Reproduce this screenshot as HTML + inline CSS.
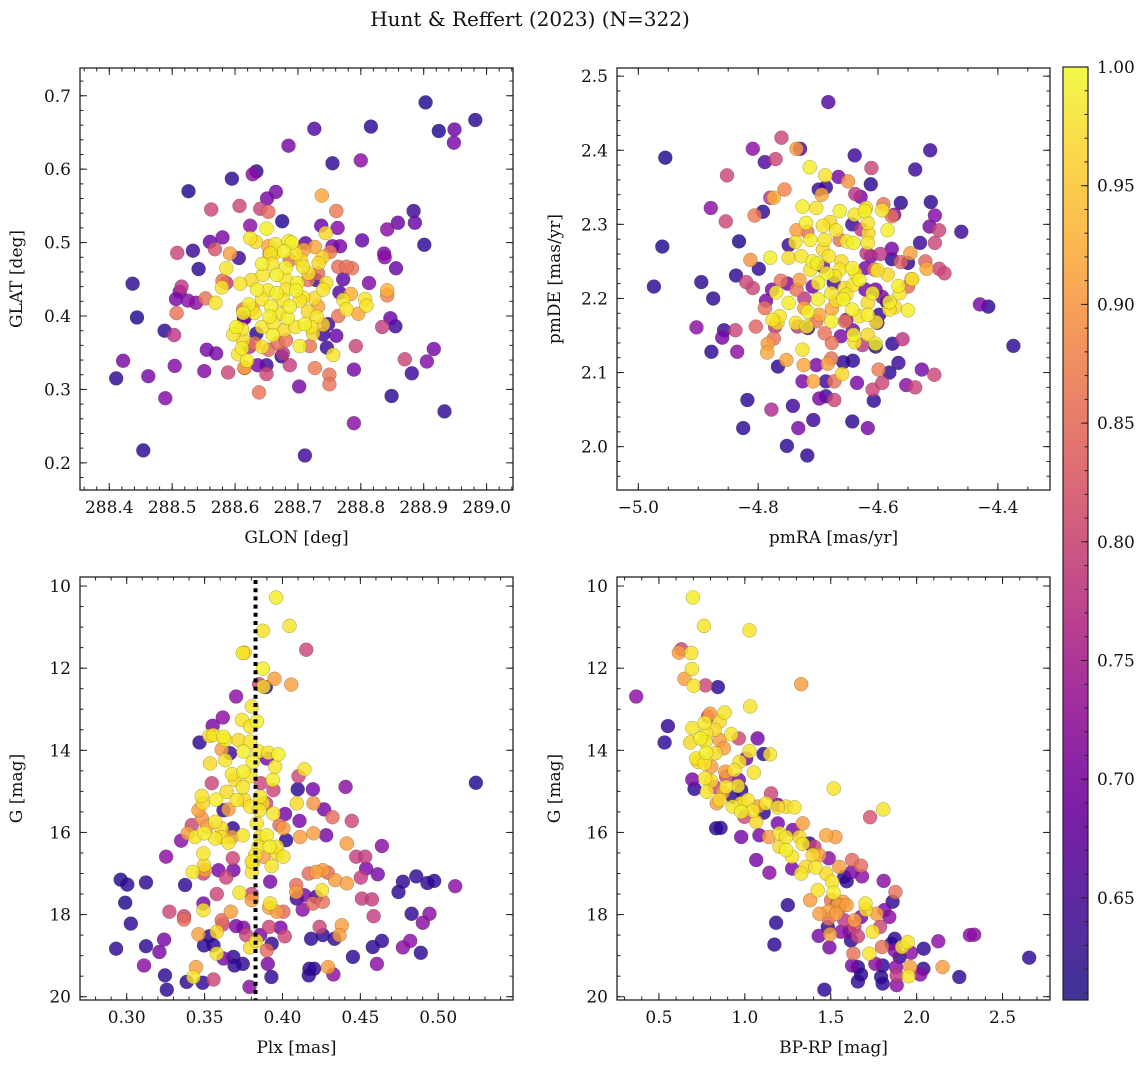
<!DOCTYPE html>
<html><head><meta charset="utf-8">
<style>
html,body{margin:0;padding:0;background:#fff;}
svg{display:block;font-family:"DejaVu Serif","Liberation Serif",serif;}
</style></head>
<body>
<svg id="fig" width="1148" height="1067" viewBox="0 0 1148 1067" xmlns="http://www.w3.org/2000/svg">
<rect width="1148" height="1067" fill="#fff"/>
<text x="530" y="26" font-size="20" text-anchor="middle" fill="#111">Hunt &amp; Reffert (2023) (N=322)</text>
<defs>
<linearGradient id="cbg" x1="0" y1="1" x2="0" y2="0">
<stop offset="0" stop-color="#3f3596"/><stop offset="0.1" stop-color="#5c2aa0"/><stop offset="0.2" stop-color="#7b1fa6"/><stop offset="0.3" stop-color="#9a2aa1"/><stop offset="0.4" stop-color="#b83f91"/><stop offset="0.5" stop-color="#cf5c80"/><stop offset="0.6" stop-color="#e2766f"/><stop offset="0.7" stop-color="#f2935f"/><stop offset="0.8" stop-color="#fbb451"/><stop offset="0.9" stop-color="#fbd64a"/><stop offset="1" stop-color="#f2f84a"/>
</linearGradient>
</defs>
<g id="layer"></g>
</svg>
<script>
// ---------- DATA ----------
const p1x=[288.903,288.982,288.924,288.949,288.948,288.816,288.726,288.685,288.755,288.800,288.595,288.634,288.628,288.526,288.665,288.651,288.562,288.607,288.640,288.653,288.738,288.761,288.675,288.624,288.737,288.763,288.744,288.884,288.886,288.859,288.842,288.901,288.802,288.712,288.580,288.560,288.508,288.533,288.568,288.592,288.606,288.837,288.838,288.856,288.542,288.437,288.813,288.772,288.764,288.786,288.777,288.842,288.842,288.807,288.809,288.796,288.764,288.766,288.784,288.772,288.777,288.515,288.512,288.506,288.525,288.538,288.553,288.569,288.579,288.580,288.586,288.507,288.444,288.488,288.503,288.847,288.855,288.834,288.761,288.792,288.555,288.570,288.422,288.411,288.462,288.504,288.551,288.589,288.615,288.636,288.650,288.650,288.674,288.687,288.727,288.750,288.750,288.789,288.870,288.916,288.905,288.881,288.638,288.702,288.489,288.849,288.933,288.789,288.454,288.711,288.751,288.727,288.755,288.767,288.729,288.748,288.746,288.614,288.740,
288.650,288.624,288.633,288.685,288.664,288.690,288.656,288.663,288.678,288.696,288.705,288.643,288.659,288.681,288.708,288.717,288.739,288.733,288.745,288.699,288.681,288.666,288.644,288.626,288.608,288.635,288.652,288.666,288.681,288.697,288.708,288.726,288.740,288.622,288.643,288.657,288.670,288.684,288.703,288.716,288.730,288.613,288.631,288.602,288.611,288.597,288.613,288.611,288.605,288.619,288.643,288.660,288.678,288.696,288.711,288.721,288.724,288.740,288.756,288.703,288.643,288.661,288.687,288.676,288.655,
288.628,288.613,288.631,288.653,288.719,288.732,288.668,288.653,288.655,288.687,288.709,288.716,288.732,288.615,288.681,288.676,288.623,288.634,288.615,288.586];
const p1y=[0.691,0.667,0.652,0.654,0.636,0.658,0.655,0.632,0.608,0.612,0.587,0.597,0.593,0.570,0.569,0.560,0.545,0.550,0.546,0.542,0.564,0.543,0.529,0.523,0.523,0.520,0.513,0.543,0.527,0.527,0.518,0.497,0.503,0.499,0.507,0.501,0.486,0.489,0.491,0.485,0.479,0.485,0.480,0.465,0.464,0.444,0.445,0.450,0.467,0.465,0.467,0.435,0.428,0.423,0.414,0.403,0.400,0.432,0.430,0.422,0.409,0.440,0.433,0.423,0.421,0.418,0.424,0.418,0.439,0.448,0.465,0.404,0.398,0.380,0.374,0.397,0.386,0.385,0.373,0.359,0.354,0.349,0.339,0.315,0.318,0.332,0.325,0.323,0.329,0.333,0.333,0.321,0.345,0.333,0.329,0.320,0.307,0.327,0.341,0.355,0.338,0.322,0.296,0.304,0.288,0.291,0.270,0.254,0.217,0.210,0.487,0.494,0.495,0.495,0.449,0.389,0.357,0.397,0.375,
0.519,0.506,0.501,0.502,0.498,0.500,0.485,0.486,0.488,0.485,0.476,0.471,0.471,0.466,0.467,0.458,0.480,0.472,0.445,0.445,0.450,0.456,0.456,0.449,0.444,0.436,0.435,0.431,0.436,0.435,0.425,0.424,0.436,0.416,0.423,0.413,0.403,0.397,0.421,0.406,0.399,0.404,0.404,0.385,0.382,0.375,0.367,0.356,0.348,0.339,0.385,0.374,0.381,0.385,0.389,0.385,0.376,0.388,0.347,0.359,0.358,0.390,0.413,0.422,0.399,
0.410,0.409,0.363,0.354,0.359,0.413,0.363,0.495,0.485,0.476,0.490,0.449,0.458,0.330,0.367,0.349,0.358,0.376,0.397,0.445];
const p1c=[0.62,0.63,0.62,0.69,0.70,0.63,0.66,0.70,0.63,0.72,0.63,0.63,0.72,0.62,0.70,0.70,0.80,0.80,0.80,0.85,0.92,0.87,0.62,0.72,0.68,0.71,0.97,0.64,0.68,0.68,0.72,0.63,0.68,0.67,0.70,0.68,0.80,0.64,0.82,0.91,0.64,0.70,0.72,0.68,0.63,0.63,0.71,0.67,0.85,0.86,0.86,0.93,0.88,0.98,0.98,0.92,0.86,0.66,0.93,0.98,0.98,0.78,0.70,0.70,0.72,0.72,0.86,0.98,0.98,0.86,0.98,0.86,0.62,0.63,0.78,0.68,0.64,0.79,0.68,0.80,0.70,0.70,0.70,0.63,0.70,0.71,0.71,0.80,0.86,0.70,0.64,0.80,0.63,0.79,0.87,0.86,0.86,0.70,0.80,0.70,0.71,0.64,0.86,0.70,0.71,0.63,0.63,0.72,0.63,0.64,0.87,0.92,0.70,0.70,0.64,0.64,0.64,0.65,0.64,
0.99,0.98,0.97,0.99,0.98,0.99,0.98,0.97,0.99,0.98,0.97,0.99,0.98,0.99,0.98,0.97,0.96,0.97,0.98,0.99,0.98,0.99,0.98,0.97,0.98,0.99,0.98,0.99,0.98,0.99,0.98,0.97,0.98,0.99,0.98,0.99,0.98,0.99,0.98,0.97,0.98,0.99,0.98,0.99,0.98,0.98,0.97,0.99,0.98,0.99,0.98,0.99,0.97,0.98,0.99,0.98,0.97,0.96,0.98,0.99,0.98,0.98,0.99,0.98,0.99,
0.92,0.86,0.86,0.85,0.86,0.92,0.85,0.92,0.86,0.86,0.92,0.86,0.85,0.91,0.86,0.78,0.77,0.63,0.70,0.78];

const p2x=[-4.683,-4.955,-4.960,-4.974,-4.809,-4.789,-4.771,-4.761,-4.736,-4.730,-4.852,-4.879,-4.854,-4.832,-4.792,-4.806,-4.780,-4.774,-4.756,-4.813,-4.799,-4.837,-4.895,-4.875,-4.809,-4.820,-4.804,-4.903,-4.857,-4.860,-4.838,-4.878,-4.835,-4.818,-4.825,-4.778,-4.752,-4.718,-4.733,-4.742,-4.708,-4.698,-4.687,-4.673,-4.643,-4.617,-4.607,-4.609,-4.593,-4.635,-4.581,-4.599,-4.566,-4.553,-4.538,-4.527,-4.506,-4.576,-4.559,-4.374,-4.430,-4.416,-4.461,-4.498,-4.514,-4.505,-4.512,-4.530,-4.505,-4.538,-4.513,-4.639,-4.611,-4.612,-4.666,-4.650,-4.687,-4.694,-4.638,-4.629,-4.562,-4.573,-4.577,-4.591,-4.577,-4.577,-4.562,-4.550,-4.546,-4.521,-4.519,-4.498,-4.489,-4.550,-4.544,-4.585,-4.593,-4.598,-4.601,-4.604,-4.626,-4.642,-4.642,-4.658,-4.662,-4.655,-4.703,-4.684,-4.678,-4.677,-4.689,-4.767,-4.785,-4.784,-4.774,-4.753,-4.724,-4.708,-4.726,-4.687,-4.673,-4.717,-4.734,-4.772,-4.787,-4.789,-4.777,-4.762,-4.736,-4.751,-4.749,-4.736,-4.718,-4.699,-4.628,-4.643,-4.619,-4.612,-4.596,-4.621,-4.606,-4.723,-4.723,-4.698,-4.703,-4.677,-4.731,-4.709,-4.674,-4.653,-4.621,-4.604,-4.664,-4.692,
-4.714,-4.688,-4.726,-4.703,-4.720,-4.692,-4.680,-4.664,-4.670,-4.652,-4.639,-4.622,-4.620,-4.617,-4.584,-4.593,-4.616,-4.617,-4.641,-4.689,-4.713,-4.738,-4.749,-4.780,-4.728,-4.709,-4.692,-4.682,-4.701,-4.713,-4.686,-4.664,-4.661,-4.643,-4.638,-4.631,-4.642,-4.656,-4.700,-4.672,-4.700,-4.678,-4.670,-4.658,-4.653,-4.643,-4.631,-4.617,-4.617,-4.603,-4.609,-4.581,-4.572,-4.581,-4.564,-4.566,-4.543,-4.550,-4.584,-4.601,-4.770,-4.764,-4.768,-4.749,-4.737,-4.717,-4.719,-4.678,-4.726,-4.660,-4.641,-4.639,-4.617,-4.604,-4.776];
const p2y=[2.465,2.390,2.270,2.216,2.402,2.384,2.388,2.417,2.402,2.402,2.366,2.322,2.304,2.277,2.317,2.312,2.336,2.336,2.347,2.252,2.240,2.231,2.222,2.200,2.214,2.222,2.162,2.161,2.157,2.147,2.157,2.128,2.128,2.063,2.025,2.050,2.001,1.988,2.025,2.055,2.036,2.065,2.068,2.063,2.034,2.025,2.062,2.077,2.086,2.086,2.100,2.104,2.113,2.083,2.080,2.104,2.097,2.139,2.145,2.136,2.192,2.189,2.290,2.292,2.297,2.312,2.330,2.275,2.275,2.374,2.400,2.393,2.376,2.354,2.364,2.358,2.350,2.340,2.341,2.337,2.329,2.313,2.311,2.327,2.267,2.253,2.249,2.248,2.261,2.250,2.240,2.240,2.234,2.216,2.226,2.195,2.202,2.178,2.167,2.135,2.137,2.157,2.116,2.114,2.149,2.169,2.110,2.112,2.119,2.140,2.153,2.108,2.127,2.139,2.146,2.117,2.110,2.088,2.088,2.088,2.088,2.160,2.162,2.162,2.197,2.187,2.212,2.224,2.212,2.220,2.272,2.292,2.290,2.347,2.293,2.300,2.261,2.257,2.260,2.241,2.239,2.200,2.187,2.178,2.169,2.186,2.225,2.216,2.221,2.171,2.212,2.212,2.279,2.243,
2.377,2.366,2.324,2.322,2.302,2.298,2.303,2.318,2.292,2.277,2.313,2.318,2.322,2.302,2.292,2.319,2.288,2.275,2.275,2.279,2.279,2.276,2.255,2.255,2.257,2.250,2.266,2.257,2.247,2.239,2.234,2.239,2.250,2.241,2.234,2.225,2.218,2.214,2.221,2.230,2.199,2.207,2.197,2.199,2.205,2.185,2.176,2.178,2.194,2.168,2.207,2.185,2.188,2.195,2.207,2.217,2.226,2.184,2.232,2.238,2.208,2.176,2.167,2.194,2.167,2.182,2.162,2.169,2.131,2.098,2.151,2.141,2.151,2.139,2.171];
const p2c=[0.66,0.62,0.62,0.63,0.72,0.66,0.80,0.80,0.91,0.66,0.80,0.72,0.80,0.62,0.63,0.87,0.78,0.93,0.88,0.90,0.63,0.63,0.63,0.63,0.80,0.80,0.84,0.72,0.64,0.70,0.80,0.63,0.72,0.63,0.63,0.76,0.63,0.63,0.70,0.64,0.64,0.70,0.64,0.80,0.63,0.70,0.63,0.80,0.80,0.70,0.63,0.87,0.64,0.72,0.80,0.70,0.80,0.63,0.78,0.63,0.70,0.63,0.64,0.80,0.70,0.71,0.63,0.64,0.80,0.64,0.64,0.64,0.80,0.63,0.70,0.90,0.64,0.92,0.78,0.70,0.63,0.70,0.86,0.86,0.70,0.63,0.84,0.63,0.91,0.84,0.92,0.80,0.80,0.85,0.92,0.64,0.70,0.64,0.70,0.63,0.78,0.70,0.63,0.63,0.70,0.86,0.70,0.91,0.86,0.86,0.86,0.63,0.92,0.91,0.86,0.92,0.92,0.92,0.70,0.64,0.86,0.64,0.78,0.78,0.70,0.86,0.70,0.86,0.86,0.70,0.64,0.91,0.86,0.64,0.78,0.64,0.78,0.70,0.78,0.70,0.86,0.78,0.92,0.92,0.86,0.92,0.91,0.70,0.64,0.70,0.70,0.70,0.86,0.70,
0.99,0.98,0.99,0.98,0.99,0.98,0.97,0.99,0.98,0.99,0.98,0.99,0.97,0.98,0.99,0.98,0.97,0.98,0.99,0.98,0.99,0.98,0.97,0.99,0.98,0.99,0.97,0.98,0.99,0.98,0.99,0.98,0.97,0.99,0.98,0.99,0.98,0.97,0.99,0.98,0.99,0.98,0.97,0.99,0.98,0.99,0.98,0.99,0.97,0.98,0.99,0.98,0.97,0.99,0.98,0.99,0.98,0.99,0.97,0.98,0.99,0.98,0.97,0.99,0.98,0.99,0.98,0.99,0.98,0.97,0.99,0.98,0.97,0.99,0.98];

const p3x=[0.3959,0.4045,0.3874,0.4152,0.3745,0.3756,0.3874,0.3949,0.4056,0.3893,0.3878,0.3850,0.3702,0.3803,0.3617,0.3552,0.3467,0.3739,0.3792,0.3835,0.3557,0.3531,0.3621,0.3632,0.3717,0.3792,0.3749,0.3846,0.3610,0.3664,0.3910,0.3974,0.3899,0.3953,0.3809,0.3632,0.3535,0.3675,0.3749,0.3792,0.3696,0.4103,0.4141,0.3938,0.3942,0.3861,0.3745,0.3642,0.3546,0.4098,0.4195,0.4405,0.5242,0.3482,0.3488,0.3574,0.3707,0.3754,0.3792,0.3895,0.3942,0.4092,0.4199,0.4267,0.3621,0.3653,0.3461,0.3482,0.3568,0.3610,0.3681,0.3514,0.3418,0.3392,0.3349,0.3439,0.3499,0.3568,0.3610,0.3653,0.3675,0.3745,0.3856,0.3899,0.3964,0.3964,0.4006,0.3917,0.3846,0.3878,0.3931,0.3809,0.3803,0.4006,0.3981,0.4017,0.4109,0.4113,0.4023,0.4199,0.4281,0.4321,0.4445,0.3492,0.3496,0.3424,0.3503,0.3253,0.3589,0.3638,0.3685,0.3681,0.3492,0.2961,0.3004,0.3124,0.3375,0.3578,0.3724,0.3803,0.3803,0.3921,0.3921,0.3914,0.3964,0.4006,0.4092,0.4141,0.4130,0.4088,0.4088,0.4195,0.4259,0.4216,0.4253,0.4259,0.4169,0.4216,0.4291,0.4338,0.4413,0.4413,0.4473,0.4531,0.4537,0.4503,0.4612,0.4638,0.4510,0.4574,0.4585,0.4745,0.4773,0.4859,0.4931,0.4974,0.5109,0.4829,0.4944,0.4901,0.4773,0.4820,0.4888,0.4638,0.4580,0.4606,0.4452,0.4381,0.4366,0.4334,0.4259,0.4184,0.4238,0.4293,0.4327,0.4173,0.4169,0.4203,0.3929,0.3906,0.3899,0.3931,0.4015,0.3987,0.3914,0.3856,0.3831,0.3792,0.3749,0.3702,0.3767,0.3685,0.3692,0.3745,0.3621,0.3557,0.3578,0.3578,0.3531,0.3496,0.3461,0.3610,0.3668,0.3617,0.3492,0.3492,0.3368,0.3368,0.3274,0.2990,0.3026,0.2932,0.3124,0.3210,0.3240,0.3111,0.3246,0.3257,0.3385,0.3428,0.3445,0.3488,0.3557,0.3788,0.3824,0.3803,0.3835,0.3852,0.3874,0.3856];
const p3y=[10.28,10.97,11.09,11.55,11.63,11.62,12.01,12.26,12.40,12.46,12.45,12.39,12.69,12.93,13.20,13.40,13.81,13.26,13.42,13.30,13.63,13.65,13.67,13.75,13.75,13.79,14.03,14.03,13.98,14.07,14.06,14.10,14.20,14.40,14.28,14.24,14.32,14.58,14.52,14.63,14.72,14.63,14.46,14.72,14.97,14.80,14.90,15.01,14.80,14.95,14.95,14.89,14.79,15.11,15.29,15.20,15.21,15.21,15.37,15.29,15.54,15.29,15.29,15.44,15.46,15.44,15.46,15.66,15.74,15.90,15.90,15.86,15.82,16.02,16.20,16.11,16.02,16.15,16.11,16.25,16.11,16.07,16.11,16.07,16.35,16.51,16.59,16.35,16.35,16.59,16.82,16.76,16.96,15.90,15.82,15.55,15.72,16.11,16.19,16.02,16.07,15.63,15.72,16.51,16.80,16.96,16.92,16.59,16.92,17.10,16.92,16.63,17.00,17.15,17.27,17.22,17.28,17.50,17.47,17.65,17.50,17.20,17.73,17.83,17.93,17.93,17.61,17.53,17.88,17.28,17.45,17.73,17.69,17.57,17.41,16.92,17.00,16.96,16.98,17.16,17.24,16.27,16.59,16.59,16.88,17.10,17.02,16.33,17.61,17.63,18.04,17.45,17.20,17.07,17.23,17.18,17.31,17.98,17.98,18.20,18.80,18.64,18.93,18.64,18.79,19.20,19.03,18.26,18.50,18.59,18.50,18.59,18.30,19.28,19.46,19.32,19.48,19.32,19.52,19.20,18.87,18.71,18.53,18.32,18.30,18.50,18.64,18.80,18.32,18.28,18.50,19.03,19.24,19.20,19.07,18.75,18.95,18.42,18.53,18.75,18.48,18.14,17.93,18.24,17.89,17.73,18.04,18.12,17.93,17.71,18.22,18.83,18.77,18.91,18.61,19.24,19.48,19.83,19.64,19.52,19.28,19.66,19.58,19.76,16.55,16.71,15.78,15.46,15.29,15.13];
const p3c=[0.99,0.98,0.98,0.80,0.98,0.97,0.99,0.91,0.91,0.63,0.97,0.80,0.72,0.98,0.72,0.70,0.63,0.98,0.98,0.99,0.98,0.97,0.99,0.98,0.97,0.98,0.99,0.98,0.91,0.64,0.98,0.99,0.70,0.98,0.99,0.98,0.97,0.98,0.99,0.98,0.97,0.80,0.98,0.99,0.80,0.80,0.98,0.97,0.80,0.63,0.70,0.72,0.62,0.98,0.97,0.99,0.98,0.97,0.98,0.80,0.98,0.97,0.90,0.70,0.63,0.91,0.91,0.90,0.98,0.97,0.63,0.91,0.80,0.91,0.72,0.98,0.99,0.98,0.97,0.98,0.91,0.98,0.97,0.99,0.98,0.97,0.98,0.99,0.98,0.91,0.98,0.97,0.98,0.91,0.85,0.70,0.70,0.91,0.63,0.91,0.70,0.85,0.80,0.98,0.97,0.98,0.91,0.72,0.70,0.80,0.70,0.80,0.80,0.62,0.63,0.63,0.63,0.80,0.98,0.91,0.80,0.70,0.98,0.91,0.91,0.85,0.64,0.70,0.72,0.85,0.91,0.85,0.86,0.64,0.98,0.91,0.85,0.91,0.85,0.91,0.91,0.91,0.79,0.79,0.70,0.79,0.70,0.72,0.79,0.79,0.79,0.63,0.63,0.63,0.63,0.63,0.72,0.63,0.72,0.72,0.72,0.72,0.63,0.63,0.63,0.72,0.63,0.91,0.91,0.63,0.63,0.63,0.80,0.91,0.72,0.63,0.63,0.63,0.63,0.70,0.85,0.63,0.80,0.70,0.80,0.70,0.98,0.97,0.70,0.70,0.80,0.63,0.63,0.63,0.70,0.63,0.98,0.97,0.63,0.63,0.91,0.85,0.91,0.80,0.98,0.70,0.80,0.85,0.80,0.62,0.63,0.63,0.63,0.70,0.70,0.72,0.63,0.63,0.63,0.98,0.91,0.63,0.80,0.72,0.98,0.98,0.98,0.98,0.97,0.98];

const p4x=[0.698,0.762,1.027,0.630,0.616,0.688,0.692,0.649,0.702,0.771,0.843,1.328,0.368,1.031,0.552,0.533,0.798,0.785,0.882,0.853,0.766,0.694,0.775,0.824,0.921,0.965,1.074,0.853,0.771,0.682,0.742,0.878,1.027,1.109,1.147,1.008,0.969,0.829,0.775,0.717,0.727,0.766,0.804,1.052,0.886,0.940,0.965,0.959,0.891,0.694,0.707,0.769,0.804,0.779,0.824,0.891,0.853,0.872,0.930,0.979,0.837,0.930,0.979,1.017,0.979,0.998,1.047,1.066,1.076,1.110,1.124,1.153,1.192,1.192,1.240,1.289,1.085,1.140,1.192,1.202,1.202,1.240,1.240,1.275,1.318,1.337,1.279,1.337,1.376,1.405,1.395,1.434,1.473,1.527,1.517,1.806,1.729,0.833,0.859,0.979,1.066,1.143,1.250,1.182,1.172,1.275,1.328,1.355,1.411,1.473,1.508,1.516,1.424,1.488,1.550,1.579,1.593,1.624,1.676,1.682,1.624,1.502,1.570,1.541,1.593,1.488,1.550,1.531,1.488,1.702,1.705,1.676,1.638,1.609,1.638,1.658,1.744,1.767,1.787,1.808,1.812,1.841,1.876,1.860,1.483,1.496,1.430,1.492,1.618,1.632,1.624,1.658,1.676,1.658,1.725,1.760,1.802,1.798,1.853,1.872,1.872,1.901,1.915,1.948,1.967,2.041,1.953,1.962,1.880,1.884,1.884,1.793,1.802,2.021,2.039,2.126,2.151,2.248,2.335,2.310,2.655,1.463,1.560,1.579,1.434,1.535,1.380];
const p4y=[10.28,10.97,11.08,11.54,11.62,11.63,12.02,12.26,12.43,12.42,12.46,12.39,12.69,12.93,13.41,13.81,13.11,13.18,13.08,13.30,13.33,13.46,13.59,13.50,13.61,13.71,13.71,13.75,13.79,13.81,13.71,13.95,14.02,14.09,14.10,14.20,14.28,14.07,14.06,14.20,14.28,14.32,14.40,14.54,14.52,14.48,14.72,14.87,14.64,14.71,14.94,14.68,14.75,15.01,14.89,14.89,15.21,15.03,15.13,14.97,15.29,15.37,15.29,15.21,15.50,15.62,15.47,15.74,15.37,15.52,15.29,15.05,15.33,15.39,15.37,15.39,16.07,16.11,15.78,16.02,16.35,16.11,16.43,16.59,16.11,15.78,15.94,16.28,16.27,16.35,16.55,16.55,16.07,16.11,14.93,15.44,15.63,15.90,15.89,16.11,16.67,16.98,17.77,18.20,18.73,16.88,17.00,16.84,16.85,17.00,17.20,17.47,17.41,16.63,16.84,17.08,17.19,16.67,16.81,17.07,16.96,17.65,17.69,17.77,17.77,17.91,17.85,17.98,18.10,17.73,17.88,18.06,18.14,18.42,18.30,18.53,18.42,17.98,18.30,17.18,17.89,18.06,17.45,17.69,18.30,18.48,18.52,18.80,18.63,18.95,19.24,19.28,19.46,19.63,18.95,19.20,19.24,18.79,18.71,18.59,18.87,19.03,18.79,18.67,18.93,18.83,19.50,19.28,19.28,19.48,19.72,19.52,19.68,19.46,19.32,18.65,19.28,19.52,18.49,18.50,19.05,19.83,18.42,18.14,17.98,17.73,17.65];
const p4c=[0.99,0.98,0.98,0.80,0.91,0.98,0.98,0.91,0.98,0.80,0.63,0.91,0.72,0.98,0.63,0.63,0.91,0.80,0.98,0.97,0.99,0.98,0.98,0.97,0.98,0.80,0.70,0.91,0.98,0.97,0.99,0.91,0.98,0.63,0.98,0.70,0.98,0.97,0.99,0.98,0.97,0.98,0.91,0.98,0.91,0.98,0.70,0.98,0.80,0.70,0.63,0.98,0.97,0.98,0.80,0.98,0.97,0.91,0.63,0.63,0.91,0.98,0.97,0.98,0.99,0.80,0.98,0.97,0.91,0.63,0.98,0.80,0.70,0.98,0.97,0.98,0.70,0.91,0.70,0.98,0.97,0.98,0.99,0.98,0.97,0.91,0.70,0.98,0.63,0.80,0.97,0.91,0.92,0.91,0.98,0.98,0.82,0.63,0.63,0.70,0.70,0.72,0.63,0.63,0.63,0.70,0.98,0.97,0.98,0.97,0.98,0.99,0.98,0.72,0.91,0.63,0.63,0.85,0.85,0.72,0.70,0.86,0.91,0.91,0.91,0.91,0.86,0.91,0.86,0.98,0.97,0.70,0.91,0.70,0.80,0.80,0.98,0.91,0.80,0.72,0.70,0.72,0.86,0.63,0.63,0.91,0.70,0.70,0.63,0.86,0.70,0.63,0.63,0.63,0.98,0.72,0.63,0.86,0.63,0.63,0.72,0.63,0.98,0.98,0.72,0.63,0.98,0.91,0.72,0.78,0.72,0.63,0.63,0.72,0.63,0.72,0.91,0.63,0.72,0.72,0.63,0.63,0.72,0.78,0.91,0.63,0.91];

const cbTicks=[0.65,0.70,0.75,0.80,0.85,0.90,0.95,1.00];

// ---------- RENDER ----------
const NS="http://www.w3.org/2000/svg";
const layer=document.getElementById('layer');
function mk(tag,attrs,parent){const e=document.createElementNS(NS,tag);for(const k in attrs)e.setAttribute(k,attrs[k]);(parent||layer).appendChild(e);return e;}
const PL=[[0,'#0d0887'],[0.1,'#41049d'],[0.2,'#6a00a8'],[0.3,'#8f0da4'],[0.4,'#b12a90'],[0.5,'#cc4778'],[0.6,'#e16462'],[0.7,'#f2844b'],[0.8,'#fca636'],[0.9,'#fcce25'],[1,'#f0f921']];
function hx(h){return [parseInt(h.substr(1,2),16),parseInt(h.substr(3,2),16),parseInt(h.substr(5,2),16)];}
const VMIN=0.607,VMAX=1.0;
function cmap(v){let t=(v-VMIN)/(VMAX-VMIN);t=Math.max(0,Math.min(1,t));
 for(let i=0;i<PL.length-1;i++){if(t<=PL[i+1][0]){const f=(t-PL[i][0])/(PL[i+1][0]-PL[i][0]);const a=hx(PL[i][1]),b=hx(PL[i+1][1]);return 'rgb('+a.map((c,j)=>Math.round(c+(b[j]-c)*f)).join(',')+')';}}
 return PL[PL.length-1][1];}

function fmt(v,d){return v.toFixed(d).replace('-','\u2212');}

function panel(cfg){
 const {name,L,R,T,B,xd,yd,yinv,xt,xminor,yt,yminor,xdec,ydec,xlabel,ylabel,xs,ys,cs}=cfg;
 const g=mk('g',{});
 
 
 const X=v=>L+(v-xd[0])/(xd[1]-xd[0])*(R-L);
 const Y=v=>yinv? T+(v-yd[0])/(yd[1]-yd[0])*(B-T) : B-(v-yd[0])/(yd[1]-yd[0])*(B-T);
 const idx=xs.map((_,i)=>i).sort((a,b)=>cs[a]-cs[b]);
 const pg=mk('g',{},g);
 
 
 idx.forEach(i=>{
  const c=mk('circle',{cx:X(xs[i]).toFixed(1),cy:Y(ys[i]).toFixed(1),r:7,fill:cmap(cs[i]),'fill-opacity':0.82,stroke:'rgba(60,60,40,0.45)','stroke-width':0.5},pg);
  
  
 });
 if(cfg.vline!==undefined){
  const ln=mk('line',{x1:X(cfg.vline),x2:X(cfg.vline),y1:T+3,y2:B,stroke:'#000','stroke-width':4,'stroke-dasharray':'4 4.2'},g);
  
  
 }
 const fr=mk('rect',{x:L,y:T,width:R-L,height:B-T,fill:'none',stroke:'#222','stroke-width':1.3},g);
 
 
 const tk=mk('g',{stroke:'#222','stroke-width':1},g);
 const eps=1e-9;
 for(let v=Math.ceil((xd[0])/xminor)*xminor;v<=xd[1]+eps;v+=xminor){const x=X(v);mk('line',{x1:x,x2:x,y1:B,y2:B-3.5},tk);mk('line',{x1:x,x2:x,y1:T,y2:T+3.5},tk);}
 const ylo=Math.min(yd[0],yd[1]),yhi=Math.max(yd[0],yd[1]);
 for(let v=Math.ceil(ylo/yminor)*yminor;v<=yhi+eps;v+=yminor){const y=Y(v);mk('line',{x1:L,x2:L+3.5,y1:y,y2:y},tk);mk('line',{x1:R,x2:R-3.5,y1:y,y2:y},tk);}
 xt.forEach(v=>{const x=X(v);mk('line',{x1:x,x2:x,y1:B,y2:B-7},tk);mk('line',{x1:x,x2:x,y1:T,y2:T+7},tk);
  const t=mk('text',{x:x,y:B+23,'font-size':17,'text-anchor':'middle',fill:'#111'},g);t.textContent=fmt(v,xdec);
  });
 yt.forEach(v=>{const y=Y(v);mk('line',{x1:L,x2:L+7,y1:y,y2:y},tk);mk('line',{x1:R,x2:R-7,y1:y,y2:y},tk);
  const t=mk('text',{x:L-9,y:y+6,'font-size':17,'text-anchor':'end',fill:'#111'},g);t.textContent=fmt(v,ydec);
  });
 const xl=mk('text',{x:(L+R)/2,y:B+53,'font-size':17,'text-anchor':'middle',fill:'#111'},g);xl.textContent=xlabel;
 
 const yx=cfg.ylx, yy=(T+B)/2;
 const yl=mk('text',{x:yx,y:yy,'font-size':17,'text-anchor':'middle',fill:'#111',transform:`rotate(-90 ${yx} ${yy})`},g);yl.textContent=ylabel;
 
}
function rng(a,b,s){const r=[];for(let v=a;v<=b+1e-9;v+=s)r.push(Math.round(v*1000)/1000);return r;}

panel({name:'glon-glat-panel',L:80,R:513,T:68,B:490,xd:[288.3534,289.042],yd:[0.163,0.7378],xt:rng(288.4,289.0,0.1),xminor:0.02,yt:rng(0.2,0.7,0.1),yminor:0.02,xdec:1,ydec:1,xlabel:'GLON [deg]',ylabel:'GLAT [deg]',ylx:22,xs:p1x,ys:p1y,cs:p1c});
panel({name:'proper-motion-panel',L:617,R:1050,T:68,B:490,xd:[-5.0356,-4.313],yd:[1.9415,2.511],xt:rng(-5.0,-4.4,0.2),xminor:0.05,yt:rng(2.0,2.5,0.1),yminor:0.02,xdec:1,ydec:1,xlabel:'pmRA [mas/yr]',ylabel:'pmDE [mas/yr]',ylx:560,xs:p2x,ys:p2y,cs:p2c});
panel({name:'parallax-magnitude-panel',L:80,R:513,T:577,B:1000,xd:[0.270,0.548],yd:[9.78,20.08],yinv:true,xt:rng(0.30,0.50,0.05),xminor:0.01,yt:rng(10,20,2),yminor:0.5,xdec:2,ydec:0,xlabel:'Plx [mas]',ylabel:'G [mag]',ylx:22,xs:p3x,ys:p3y,cs:p3c,vline:0.3827});
panel({name:'color-magnitude-panel',L:617,R:1050,T:577,B:1000,xd:[0.256,2.776],yd:[9.78,20.08],yinv:true,xt:rng(0.5,2.5,0.5),xminor:0.1,yt:rng(10,20,2),yminor:0.5,xdec:1,ydec:0,xlabel:'BP-RP [mag]',ylabel:'G [mag]',ylx:560,xs:p4x,ys:p4y,cs:p4c});

(function(){
 const L=1063,R=1088,T=67,B=1000;
 const g=mk('g',{});
 
 
 const Y=v=>B-(v-VMIN)/(VMAX-VMIN)*(B-T);
 mk('rect',{x:L,y:T,width:R-L,height:B-T,fill:'url(#cbg)'},g);
 mk('rect',{x:L,y:T,width:R-L,height:B-T,fill:'none',stroke:'#222','stroke-width':1.2},g);
 for(let v=0.61;v<=1.0001;v+=0.01){const y=Y(v);mk('line',{x1:R,x2:R-3.5,y1:y,y2:y,stroke:'#222','stroke-width':1},g);}
 cbTicks.forEach(v=>{const y=Y(v);mk('line',{x1:R,x2:R-7,y1:y,y2:y,stroke:'#222','stroke-width':1},g);
  const t=mk('text',{x:R+9,y:y+6,'font-size':17,fill:'#111'},g);t.textContent=v.toFixed(2);
  });
})();
</script>
</body></html>
